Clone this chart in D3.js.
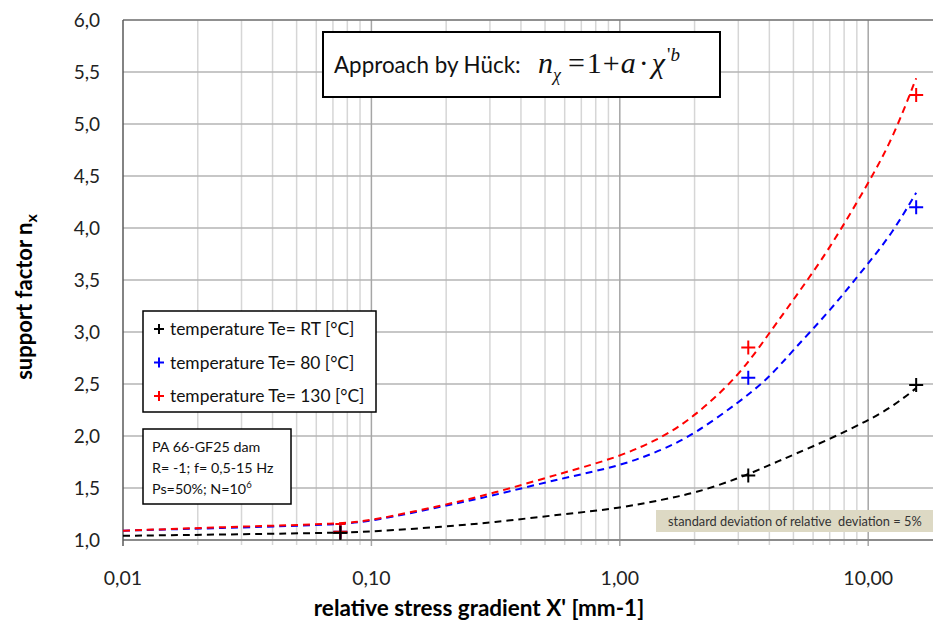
<!DOCTYPE html>
<html>
<head>
<meta charset="utf-8">
<script src="https://cdn.jsdelivr.net/npm/d3@7"></script>
<style>
  body { margin: 0; background: #fff; }
  svg { font-family: Lato, "Open Sans", sans-serif; }
</style>
</head>
<body>
<div id="content"></div>
<script>
var width = 933,
    height = 626;

// measured points
var xPoints = [0.075, 3.29, 15.6];
var rtPoints = [1.07, 1.62, 2.49];
var t80Points = [1.08, 2.56, 4.20];
var t130Points = [1.08, 2.85, 5.28];
// error bar on the first 130 °C point
var errX = [0.075];
var errLow = [1.03];
var errHigh = [1.155];

// fitted curves
var xCurve = [0.01, 0.03, 0.075, 0.1, 0.2, 0.3, 0.6, 1, 1.5, 2, 3, 4, 5, 7, 10, 12.5, 15.6];
var rtCurve = [1.04, 1.055, 1.07, 1.08, 1.13, 1.165, 1.25, 1.305, 1.39, 1.45, 1.59, 1.72, 1.82, 1.97, 2.15, 2.28, 2.46];
var t80Curve = [1.09, 1.12, 1.15, 1.18, 1.33, 1.42, 1.60, 1.71, 1.87, 2.02, 2.32, 2.56, 2.83, 3.20, 3.66, 3.95, 4.34];
var t130Curve = [1.09, 1.13, 1.155, 1.186, 1.34, 1.44, 1.65, 1.80, 1.99, 2.19, 2.57, 2.99, 3.31, 3.80, 4.43, 4.85, 5.44];

var yTicks = [1.0, 1.5, 2.0, 2.5, 3.0, 3.5, 4.0, 4.5, 5.0, 5.5, 6.0];
var xTicks = [0.01, 0.1, 1, 10];
var xTickLabels = ["0,01", "0,10", "1,00", "10,00"];

var seriesNames = ["temperature Te= RT [°C]", "temperature Te= 80 [°C]", "temperature Te= 130 [°C]"];
var seriesColors = ["#000000", "#0000ff", "#ff0000"];

var plotLeft = 123, plotTop = 20, plotBottom = 540, plotRight = width;
var decade = 248.4;

var svg = d3.select("#content")
    .append("svg")
    .attr("width", width)
    .attr("height", height);

var x = d3.scaleLog()
    .domain([0.01, 100])
    .range([plotLeft, plotLeft + decade * 4]);

var y = d3.scaleLinear()
    .domain([1, 6])
    .range([plotBottom, plotTop]);

// minor vertical grid
var minor = [];
[0.01, 0.1, 1, 10].forEach(function (d) {
    for (var k = 2; k <= 9; k++) {
        if (x(d * k) < plotRight) minor.push(d * k);
    }
});

svg.append("g")
    .selectAll("line")
    .data(minor)
    .enter()
    .append("line")
    .attr("x1", function (d) { return x(d); })
    .attr("x2", function (d) { return x(d); })
    .attr("y1", plotTop)
    .attr("y2", plotBottom + 5)
    .attr("stroke", "#d6d6d6")
    .attr("stroke-width", 1.5);

// horizontal grid
svg.append("g")
    .selectAll("line")
    .data(yTicks)
    .enter()
    .append("line")
    .attr("x1", plotLeft)
    .attr("x2", plotRight)
    .attr("y1", function (d) { return y(d); })
    .attr("y2", function (d) { return y(d); })
    .attr("stroke", "#b4b4b4")
    .attr("stroke-width", 1.5);

// major vertical grid
svg.append("g")
    .selectAll("line")
    .data(xTicks.slice(1))
    .enter()
    .append("line")
    .attr("x1", function (d) { return x(d); })
    .attr("x2", function (d) { return x(d); })
    .attr("y1", plotTop)
    .attr("y2", plotBottom + 6)
    .attr("stroke", "#a6a6a6")
    .attr("stroke-width", 1.5);

// frame
svg.append("line")
    .attr("x1", plotLeft).attr("x2", plotRight)
    .attr("y1", plotTop).attr("y2", plotTop)
    .attr("stroke", "#5a5a5a").attr("stroke-width", 1.2);
svg.append("line")
    .attr("x1", plotLeft).attr("x2", plotRight)
    .attr("y1", plotBottom).attr("y2", plotBottom)
    .attr("stroke", "#8c8c8c").attr("stroke-width", 2);
svg.append("line")
    .attr("x1", plotLeft).attr("x2", plotLeft)
    .attr("y1", plotTop).attr("y2", plotBottom + 6)
    .attr("stroke", "#5a5a5a").attr("stroke-width", 1.5);

// y tick labels
svg.append("g")
    .selectAll("text")
    .data(yTicks)
    .enter()
    .append("text")
    .attr("x", 100)
    .attr("y", function (d) { return y(d) + 7; })
    .attr("text-anchor", "end")
    .attr("font-size", 19)
    .attr("fill", "#222")
    .text(function (d) { return d3.format(".1f")(d).replace(".", ","); });

// x tick labels
svg.append("g")
    .selectAll("text")
    .data(xTicks)
    .enter()
    .append("text")
    .attr("x", function (d) { return x(d); })
    .attr("y", 585)
    .attr("text-anchor", "middle")
    .attr("font-size", 19.5)
    .attr("fill", "#222")
    .text(function (d, i) { return xTickLabels[i]; });

// axis titles
svg.append("text")
    .attr("x", 479)
    .attr("y", 616)
    .attr("text-anchor", "middle")
    .attr("font-size", 22.5)
    .attr("font-weight", "bold")
    .text("relative stress gradient X' [mm-1]");

var yt = svg.append("text")
    .attr("transform", "translate(32,297) rotate(-90)")
    .attr("text-anchor", "middle")
    .attr("font-size", 22)
    .attr("font-weight", "bold");
yt.append("tspan").text("support factor n");
yt.append("tspan").attr("dy", 5).attr("font-size", 16).text("x");

// curves
var line = d3.line()
    .x(function (d) { return x(d[0]); })
    .y(function (d) { return y(d[1]); })
    .curve(d3.curveBasis);

var curves = [rtCurve, t80Curve, t130Curve];
curves.forEach(function (c, i) {
    svg.append("path")
        .attr("d", line(d3.zip(xCurve, c)))
        .attr("fill", "none")
        .attr("stroke", seriesColors[i])
        .attr("stroke-width", 2)
        .attr("stroke-dasharray", "7,5");
});

// error bar
svg.append("g")
    .selectAll("path")
    .data(errX)
    .enter()
    .append("path")
    .attr("d", function (d, i) {
        var cx = x(d);
        return "M" + cx + "," + y(errLow[i]) + "V" + y(errHigh[i]) +
            "M" + (cx - 5) + "," + y(errHigh[i]) + "H" + (cx + 5);
    })
    .attr("stroke", "#ff0000")
    .attr("stroke-width", 2)
    .attr("fill", "none");

// markers
function plus(cx, cy, s) {
    return "M" + (cx - s) + "," + cy + "H" + (cx + s) + "M" + cx + "," + (cy - s) + "V" + (cy + s);
}
var pointSets = [rtPoints, t80Points, t130Points];
pointSets.forEach(function (p, i) {
    svg.append("g")
        .selectAll("path")
        .data(p)
        .enter()
        .append("path")
        .attr("d", function (d, j) { return plus(x(xPoints[j]), y(d), 7); })
        .attr("stroke", seriesColors[i])
        .attr("stroke-width", 2);
});
// black marker on top at the first point
svg.append("path")
    .attr("d", plus(x(xPoints[0]), y(rtPoints[0]), 7))
    .attr("stroke", "#000")
    .attr("stroke-width", 2);

// formula box
svg.append("rect")
    .attr("x", 323).attr("y", 32)
    .attr("width", 397).attr("height", 65)
    .attr("fill", "#fff").attr("stroke", "#000").attr("stroke-width", 2);
svg.append("text")
    .attr("x", 334).attr("y", 73)
    .attr("font-size", 22.4)
    .attr("fill", "#111")
    .text("Approach by Hück:");
var f = svg.append("text")
    .attr("x", 538).attr("y", 73)
    .attr("font-family", "'Liberation Serif', 'DejaVu Serif', serif")
    .attr("font-size", 30)
    .attr("fill", "#111");
f.append("tspan").attr("font-style", "italic").text("n");
f.append("tspan").attr("font-style", "italic").attr("font-size", 18).attr("dy", 8).text("χ");
f.append("tspan").attr("dy", -8).attr("dx", 7).text("=");
f.append("tspan").attr("dx", 2).text("1");
f.append("tspan").attr("dx", 1).text("+");
f.append("tspan").attr("dx", 1).attr("font-style", "italic").text("a");
f.append("tspan").attr("dx", 3).text("·");
f.append("tspan").attr("dx", 3).attr("font-style", "italic").text("χ");
f.append("tspan").attr("font-size", 19).attr("dy", -12).attr("dx", 2).text("'");
f.append("tspan").attr("font-style", "italic").attr("font-size", 19).text("b");

// legend
svg.append("rect")
    .attr("x", 143).attr("y", 311)
    .attr("width", 233).attr("height", 101)
    .attr("fill", "#fff").attr("stroke", "#000").attr("stroke-width", 1.5);
var lg = svg.append("g")
    .selectAll("g")
    .data(seriesNames)
    .enter()
    .append("g")
    .attr("transform", function (d, i) { return "translate(0," + (329 + i * 33.5) + ")"; });
lg.append("path")
    .attr("d", plus(159, 0, 5))
    .attr("stroke", function (d, i) { return seriesColors[i]; })
    .attr("stroke-width", 2);
lg.append("text")
    .attr("x", 170).attr("y", 6)
    .attr("font-size", 17.4)
    .attr("fill", "#111")
    .text(function (d) { return d; });

// material box
var info = ["PA 66-GF25 dam", "R= -1; f= 0,5-15 Hz", "Ps=50%; N=10"];
svg.append("rect")
    .attr("x", 143).attr("y", 429)
    .attr("width", 148).attr("height", 75)
    .attr("fill", "#fff").attr("stroke", "#000").attr("stroke-width", 1.5);
var it = svg.append("g")
    .selectAll("text")
    .data(info)
    .enter()
    .append("text")
    .attr("x", 152)
    .attr("y", function (d, i) { return 452 + i * 21; })
    .attr("font-size", 14.3)
    .attr("fill", "#111")
    .text(function (d) { return d; });
it.filter(function (d, i) { return i === 2; })
    .append("tspan")
    .attr("dy", -6)
    .attr("font-size", 9.5)
    .text("6");

// note
svg.append("rect")
    .attr("x", 656).attr("y", 510)
    .attr("width", 277).attr("height", 22)
    .attr("fill", "#ddd9c4");
svg.append("text")
    .attr("x", 668).attr("y", 525.5)
    .attr("font-size", 12.8)
    .attr("fill", "#333")
    .attr("xml:space", "preserve")
    .style("white-space", "pre")
    .text("standard deviation of relative  deviation = 5%");
</script>
</body>
</html>
